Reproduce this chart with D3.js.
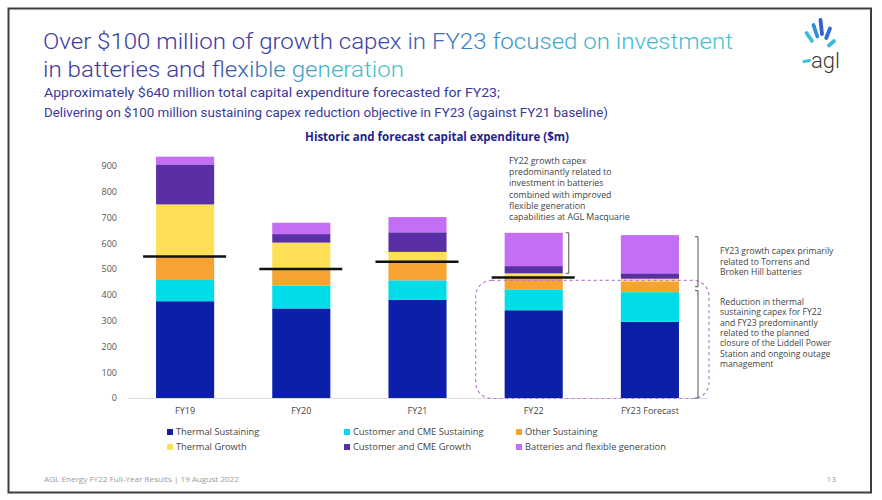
<!DOCTYPE html>
<html>
<head>
<meta charset="utf-8">
<script src="https://cdn.jsdelivr.net/npm/d3@7"></script>
<style>
  html, body { margin: 0; padding: 0; background: #fff; }
  svg { display: block; }
</style>
</head>
<body>
<svg id="chart" width="882" height="500"></svg>
<script>
// ---------------- DATA ----------------
const categories = ["FY19", "FY20", "FY21", "FY22", "FY23 Forecast"];
const seriesNames = ["Thermal Sustaining", "Customer and CME Sustaining", "Other Sustaining",
                     "Thermal Growth", "Customer and CME Growth", "Batteries and flexible generation"];
const thermalSustaining  = [375, 347, 380, 340, 295];
const customerSustaining = [82, 88, 76, 81, 115];
const otherSustaining    = [91, 64, 72, 45, 42];
const thermalGrowth      = [202, 103, 38, 17, 10];
const customerGrowth     = [155, 33, 76, 28, 21];
const batteriesFlexible  = [30, 44, 59, 129, 148];
const sustainingTotal    = [548, 500, 528, 467, null];
const yTicks = [0, 100, 200, 300, 400, 500, 600, 700, 800, 900];
const seriesColors = ["#0b1fa9", "#00dce8", "#f6a331", "#ffdf55", "#5a2fa5", "#c46ef5"];

const titleLines = ["Over $100 million of growth capex in FY23 focused on investment",
                    "in batteries and flexible generation"];
const subtitleLines = ["Approximately $640 million total capital expenditure forecasted for FY23;",
                       "Delivering on $100 million sustaining capex reduction objective in FY23 (against FY21 baseline)"];
const chartTitle = "Historic and forecast capital expenditure ($m)";
const noteFY22 = ["FY22 growth capex", "predominantly related to", "investment in batteries",
                  "combined with improved", "flexible generation", "capabilities at AGL Macquarie"];
const noteGrowth = ["FY23 growth capex primarily", "related to Torrens and", "Broken Hill batteries"];
const noteThermal = ["Reduction in thermal", "sustaining capex for FY22", "and FY23 predominantly",
                     "related to the planned", "closure of the Liddell Power", "Station and ongoing outage",
                     "management"];
const footerText = "AGL Energy FY22 Full-Year Results | 19 August 2022";
const pageNumber = "13";

// ---------------- BUILD ----------------
const svg = d3.select("#chart");
const defs = svg.append("defs");
const FONT = "'Open Sans', sans-serif";

function fit(sel, w) {
  sel.attr("textLength", w).attr("lengthAdjust", "spacingAndGlyphs");
}

// frame
svg.append("rect").attr("x", 8.5).attr("y", 8.5).attr("width", 862.5).attr("height", 484)
  .attr("fill", "#fff").attr("stroke", "#3d3d3d").attr("stroke-width", 2);

// title gradient
const tg = defs.append("linearGradient").attr("id", "titleGrad")
  .attr("x1", "0").attr("x2", "1").attr("y1", "0").attr("y2", "0");
[[0, "#3c3a9e"], [0.46, "#3b3ea2"], [0.62, "#3b7fbf"], [0.78, "#3eb3c8"], [1, "#42c2cd"]]
  .forEach(s => tg.append("stop").attr("offset", s[0]).attr("stop-color", s[1]));

const titleW = [690, 361];
titleLines.forEach((t, i) => {
  svg.append("text").attr("x", 43).attr("y", 49 + i * 28)
    .attr("font-family", "Roboto, sans-serif").attr("font-weight", 300)
    .attr("font-size", 22.5).attr("fill", "url(#titleGrad)").text(t)
    .call(fit, titleW[i]);
});
const subW = [456, 564];
subtitleLines.forEach((t, i) => {
  svg.append("text").attr("x", 44).attr("y", 97 + i * 20)
    .attr("font-family", "Roboto, sans-serif").attr("font-size", 12.5)
    .attr("fill", "#3b3a9c").text(t).call(fit, subW[i]);
});

// logo
const logo = svg.append("g");
const rays = [[806.5, 33, 812, 41, "#3bbfd6"], [813.5, 25, 817.3, 36.5, "#2f8fd4"],
              [820.5, 20, 822, 34, "#2d5fcf"], [830, 28.5, 826.2, 38, "#3070d2"],
              [834, 41, 829, 45.5, "#40b8d8"]];
rays.forEach(r => logo.append("line").attr("x1", r[0]).attr("y1", r[1]).attr("x2", r[2]).attr("y2", r[3])
  .attr("stroke", r[4]).attr("stroke-width", 3.8).attr("stroke-linecap", "round"));
logo.append("line").attr("x1", 804).attr("y1", 61.5).attr("x2", 809.5).attr("y2", 60.5)
  .attr("stroke", "#3fc3d6").attr("stroke-width", 3.2).attr("stroke-linecap", "round");
logo.append("text").attr("x", 811).attr("y", 68).attr("font-family", "Roboto, sans-serif")
  .attr("font-weight", 300).attr("font-size", 22).attr("fill", "#3a3a3a").text("agl");

// chart title
svg.append("text").attr("x", 437).attr("y", 141).attr("text-anchor", "middle")
  .attr("font-family", FONT).attr("font-weight", 700).attr("font-size", 11.5)
  .attr("fill", "#1f1d8c").text(chartTitle);

// scales
const x = d3.scaleBand().domain(categories).range([127, 708]).paddingInner(0.5).paddingOuter(0.25);
const y = d3.scaleLinear().domain([0, 900]).range([398, 165.7]);

// y axis labels
const yAxis = d3.axisLeft(y).tickValues(yTicks).tickSize(0).tickPadding(0);
const yg = svg.append("g").attr("transform", "translate(117,0)").call(yAxis);
yg.select(".domain").remove();
yg.selectAll("text").attr("font-family", FONT).attr("font-size", 9).attr("fill", "#555");

// baseline
svg.append("line").attr("x1", 128).attr("x2", 708).attr("y1", y(0) + 0.5).attr("y2", y(0) + 0.5)
  .attr("stroke", "#dcdcdc").attr("stroke-width", 1);

// stacked data
const seriesArrays = [thermalSustaining, customerSustaining, otherSustaining,
                      thermalGrowth, customerGrowth, batteriesFlexible];
const rows = categories.map((c, i) => {
  const o = { cat: c };
  seriesNames.forEach((s, j) => o[s] = seriesArrays[j][i]);
  return o;
});
const stack = d3.stack().keys(seriesNames)(rows);
stack.forEach((layer, j) => {
  svg.append("g").attr("fill", seriesColors[j]).selectAll("rect").data(layer).join("rect")
    .attr("x", d => x(d.data.cat)).attr("width", x.bandwidth())
    .attr("y", d => y(d[1])).attr("height", d => y(d[0]) - y(d[1]));
});

// x labels
const xAxis = d3.axisBottom(x).tickSize(0).tickPadding(0);
const xg = svg.append("g").attr("transform", "translate(0,408)").call(xAxis);
xg.select(".domain").remove();
xg.selectAll("text").attr("font-family", FONT).attr("font-size", 9).attr("fill", "#444");

// dashed rounded box around FY22 / FY23 sustaining
svg.append("rect")
  .attr("x", x("FY22") - 29).attr("y", y(456))
  .attr("width", x("FY23 Forecast") + x.bandwidth() + 30 - (x("FY22") - 29))
  .attr("height", y(0) - y(456) + 0.5)
  .attr("rx", 16).attr("ry", 16).attr("fill", "none")
  .attr("stroke", "#b57ed8").attr("stroke-width", 1.2).attr("stroke-dasharray", "3,3");

// sustaining totals
categories.forEach((c, i) => {
  if (sustainingTotal[i] == null) return;
  const cx = x(c) + x.bandwidth() / 2;
  svg.append("line").attr("x1", cx - 42).attr("x2", cx + 41)
    .attr("y1", y(sustainingTotal[i])).attr("y2", y(sustainingTotal[i]))
    .attr("stroke", "#111").attr("stroke-width", 2.6);
});

// brackets
function bracket(xr, v0, v1) {
  const y0 = y(v0), y1 = y(v1);
  svg.append("path")
    .attr("d", `M${xr - 3},${y0}H${xr}V${y1}H${xr - 3}`)
    .attr("fill", "none").attr("stroke", "#555").attr("stroke-width", 1);
}
const r22 = x("FY22") + x.bandwidth() + 6;
bracket(r22, 640, 483);
bracket(698, 625, 431);
bracket(698, 416, 0);

// notes
function note(lines, x0, y0, step, size) {
  lines.forEach((l, i) => svg.append("text").attr("x", x0).attr("y", y0 + i * step)
    .attr("font-family", FONT).attr("font-size", size).attr("fill", "#444").text(l));
}
note(noteFY22, 509, 164, 11.2, 8.8);
note(noteGrowth, 720, 254, 10.6, 8.6);
note(noteThermal, 720, 305, 10.3, 8.6);

// legend
const legCols = [168, 345, 517];
const legRows = [432, 447];
seriesNames.forEach((s, j) => {
  const lx = legCols[j % 3], ly = legRows[Math.floor(j / 3)];
  svg.append("rect").attr("x", lx - 1).attr("y", ly - 3).attr("width", 6).attr("height", 6)
    .attr("fill", seriesColors[j]);
  svg.append("text").attr("x", lx + 8).attr("y", ly + 3.3).attr("font-family", FONT)
    .attr("font-size", 9.3).attr("fill", "#444").text(s);
});

// footer
svg.append("text").attr("x", 44).attr("y", 481.5).attr("font-family", FONT)
  .attr("font-size", 7.5).attr("fill", "#9a9a9a").text(footerText).call(fit, 195);
svg.append("text").attr("x", 836).attr("y", 482).attr("text-anchor", "end").attr("font-family", FONT)
  .attr("font-size", 8).attr("fill", "#9a9a9a").text(pageNumber);
</script>
</body>
</html>
